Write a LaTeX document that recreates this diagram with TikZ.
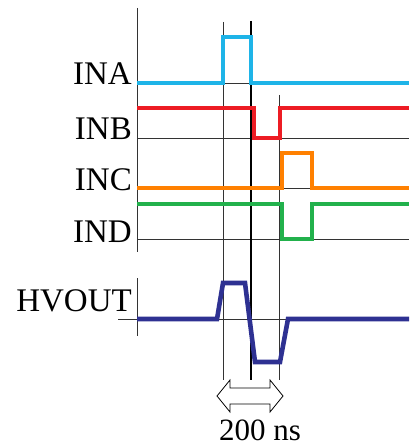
\documentclass[tikz,border=0pt]{standalone}
\usepackage{fontspec}
\setmainfont{Liberation Serif}
\definecolor{ina}{RGB}{30,180,232}
\definecolor{inb}{RGB}{237,28,36}
\definecolor{inc}{RGB}{255,128,0}
\definecolor{ind}{RGB}{34,177,76}
\definecolor{hvout}{RGB}{46,49,146}
\begin{document}
\begin{tikzpicture}[x=1pt,y=-1pt,
  grid/.style={line width=0.8pt,black!80},
  sig/.style={line width=3.9pt,line join=miter},
  lab/.style={anchor=base east,inner sep=0pt,font=\fontsize{33}{36}\selectfont}]
\useasboundingbox (0,0) rectangle (409,446);
% axes and zero levels
\draw[grid] (137,8) -- (137,252);
\draw[grid] (137,278) -- (137,336);
\draw[grid] (118,319) -- (409,319);
\foreach \y in {138,239} {
\draw[grid] (137,\y) -- (409,\y);
}
\draw[grid] (223,83) -- (251,83);
\draw[grid] (282,188) -- (312,188);
% time markers
\draw[grid] (223,22) -- (223,380);
\draw[line width=1.8pt] (251,21) -- (251,380);
\draw[grid] (279,95) -- (279,380);
% signals
\draw[sig,ina] (137,83) -- (223,83) -- (223,37) -- (251,37) -- (251,83) -- (409,83);
\draw[sig,inb] (137,108) -- (254,108) -- (254,138) -- (280,138) -- (280,108) -- (409,108);
\draw[sig,inc] (137,188) -- (282,188) -- (282,153) -- (312,153) -- (312,188) -- (409,188);
\draw[sig,ind] (137,204) -- (282,204) -- (282,239) -- (312,239) -- (312,204) -- (409,204);
\draw[sig,hvout,line width=4.6pt] (137,319) -- (217,319) -- (223,283) -- (245,283)
  -- (255,362) -- (280,362) -- (288,319) -- (409,319);
% labels
\node[lab] (lina) at (132,85) {INA};
\node[lab] (linb) at (132,140) {INB};
\node[lab] (linc) at (132,190) {INC};
\node[lab] (lind) at (132,242) {IND};
\node[lab] (lhv) at (132,311) {HVOUT};
% 200 ns span
\draw[line width=0.8pt,fill=white] (217,396) -- (230,380) -- (230,388) -- (270,388) -- (270,380)
  -- (283,396) -- (270,412) -- (270,404) -- (230,404) -- (230,412) -- cycle;
\node[lab,anchor=base,font=\fontsize{31}{34}\selectfont] (span) at (260,440) {200 ns};
\end{tikzpicture}
\end{document}
